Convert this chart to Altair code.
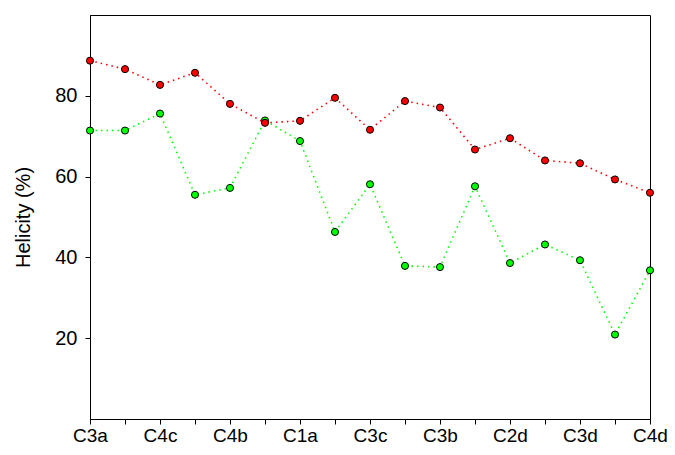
import altair as alt
import pandas as pd

# x tick labels (every other tick is labelled in the original)
tick_labels = ["C3a", "", "C4c", "", "C4b", "", "C1a", "", "C3c", "", "C3b", "", "C2d", "", "C3d", "", "C4d"]

red_values = [88.7, 86.6, 82.7, 85.7, 78.0, 73.3, 73.8, 79.5, 71.6, 78.7, 77.1, 66.7, 69.5, 64.0, 63.3, 59.3, 56.0]
green_values = [71.4, 71.4, 75.6, 55.5, 57.2, 73.9, 68.8, 46.3, 58.1, 37.9, 37.6, 57.6, 38.6, 43.2, 39.3, 20.9, 36.8]

series_names = ["green", "red"]
series_colors = ["#00ff00", "#ff0000"]

rows = []
for name, vals in zip(series_names, [green_values, red_values]):
    for i, v in enumerate(vals):
        rows.append({"pos": i, "value": v, "series": name})
df = pd.DataFrame(rows)

label_expr = "[" + ",".join("'%s'" % t for t in tick_labels) + "][datum.value]"

x = alt.X("pos:Q",
          scale=alt.Scale(domain=[0, len(tick_labels) - 1], nice=False, zero=False),
          axis=alt.Axis(values=list(range(len(tick_labels))), labelExpr=label_expr,
                        title=None, grid=False, tickSize=5, tickColor="black",
                        domainColor="black", labelFontSize=19, labelPadding=17,
                        labelBaseline="alphabetic",
                        labelColor="black", labelFlush=False))
y = alt.Y("value:Q",
          scale=alt.Scale(domain=[0, 100], nice=False),
          axis=alt.Axis(values=[20, 40, 60, 80], title="Helicity (%)", grid=False,
                        tickSize=5, tickColor="black", domainColor="black",
                        labelFontSize=20, labelPadding=8, labelColor="black",
                        titleFontSize=20, titleFontWeight="normal", titleColor="black",
                        titlePadding=21))

color_scale = alt.Scale(domain=series_names, range=series_colors)

base = alt.Chart(df)

lines = base.mark_line(strokeDash=[1.5, 4], strokeWidth=1.6).encode(
    x=x, y=y,
    color=alt.Color("series:N", scale=color_scale, legend=None),
    detail="series:N",
)

points = base.mark_circle(size=50, stroke="black", strokeWidth=1, opacity=1).encode(
    x=x, y=y,
    fill=alt.Fill("series:N", scale=color_scale, legend=None),
    order=alt.Order("series:N", sort="ascending"),
)

chart = alt.layer(lines, points).properties(
    width=560, height=404,
    autosize=alt.AutoSizeParams(type="none"),
    padding={"left": 82, "top": 7, "right": 17, "bottom": 28},
).configure(
    font="Liberation Sans",
).configure_view(
    stroke="black", strokeWidth=1,
).configure_axis(
    domainWidth=1, tickWidth=1,
)

chart.save("out.html", embed_options={"renderer": "svg", "actions": False})
